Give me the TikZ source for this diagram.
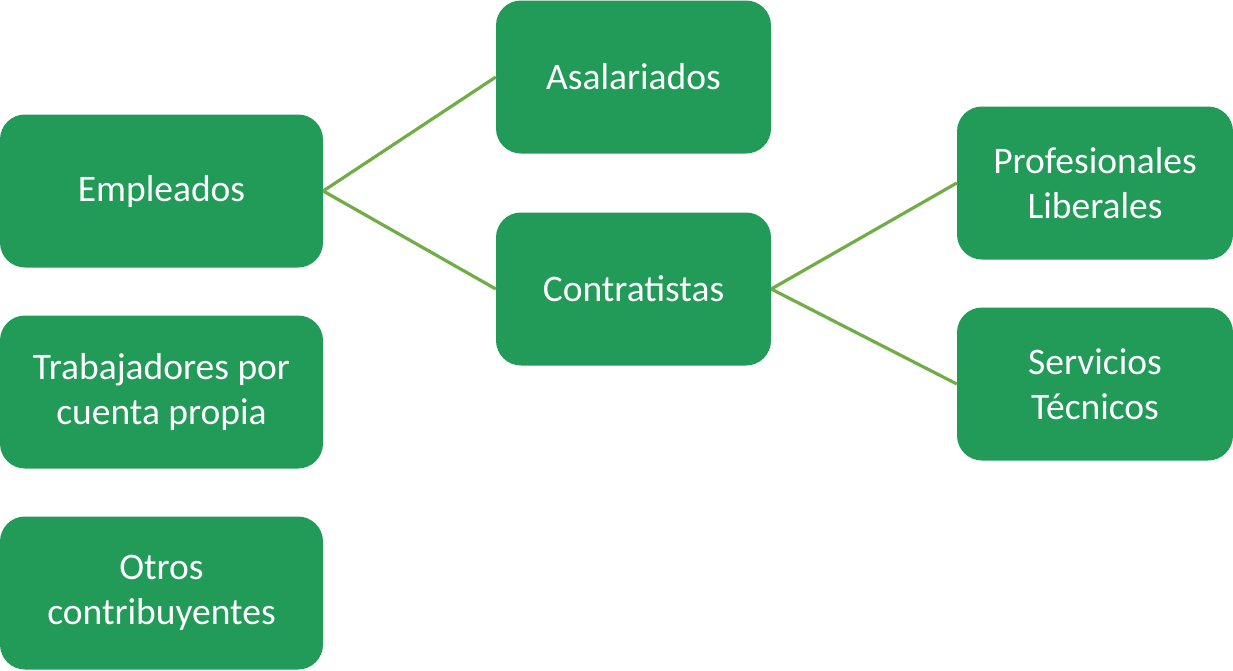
\documentclass[tikz,border=0pt]{standalone}
\usepackage{fontspec}
\setmainfont{Carlito}
\definecolor{boxgreen}{RGB}{34,154,88}
\definecolor{linegreen}{RGB}{112,173,71}
\begin{document}
\begin{tikzpicture}[x=1pt,y=-1pt,
  gbox/.style={fill=boxgreen, rounded corners=25pt, text=white, align=center,
    inner sep=0pt, font=\fontsize{37.5}{45}\selectfont},
  link/.style={draw=linegreen, line width=3.2pt}]
\useasboundingbox (0,0) rectangle (1233,670);
\node[gbox, minimum width=323pt, minimum height=153pt] (emp) at (161.5,191) {Empleados};
\node[gbox, minimum width=323pt, minimum height=153pt] (tra) at (161.5,392) {Trabajadores por\\cuenta propia};
\node[gbox, minimum width=323pt, minimum height=153pt] (otr) at (161.5,593) {Otros\\contribuyentes};
\node[gbox, minimum width=275pt, minimum height=153pt] (asa) at (633.5,77) {Asalariados};
\node[gbox, minimum width=275pt, minimum height=153pt] (con) at (633.5,289) {Contratistas};
\node[gbox, minimum width=276pt, minimum height=153pt] (pro) at (1095,183) {Profesionales\\Liberales};
\node[gbox, minimum width=276pt, minimum height=153pt] (ser) at (1095,384) {Servicios\\Técnicos};
\draw[link] (emp.east) -- (asa.west);
\draw[link] (emp.east) -- (con.west);
\draw[link] (con.east) -- (pro.west);
\draw[link] (con.east) -- (ser.west);
\end{tikzpicture}
\end{document}
